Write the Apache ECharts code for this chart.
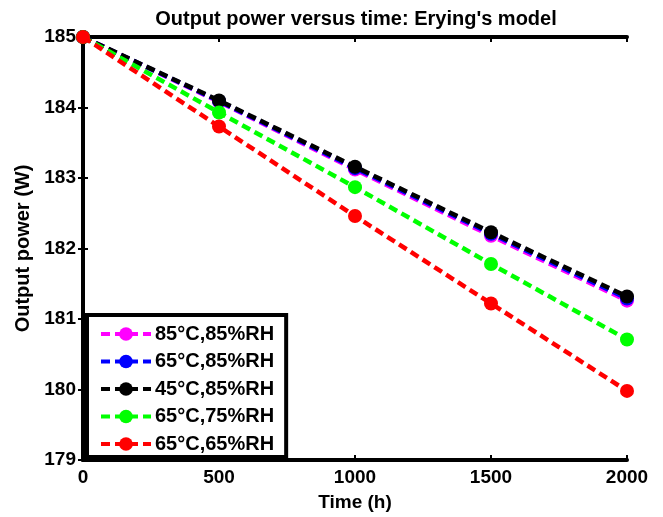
<!DOCTYPE html>
<html><head><meta charset="utf-8">
<script src="https://cdn.jsdelivr.net/npm/echarts@6/dist/echarts.min.js"></script>
<style>html,body{margin:0;padding:0;background:#fff}#c{width:663px;height:517px}</style>
</head><body><div id="c"></div>
<script>
const times = [0, 500, 1000, 1500, 2000];
const seriesNames = ['85°C,85%RH', '65°C,85%RH', '45°C,85%RH', '65°C,75%RH', '65°C,65%RH'];
const colors = ['#ff00ff', '#0000ff', '#000000', '#00ff00', '#ff0000'];
const p85_85 = [185, 184.08, 183.12, 182.18, 181.26];
const p65_85 = [185, 184.09, 183.14, 182.21, 181.29];
const p45_85 = [185, 184.10, 183.16, 182.23, 181.32];
const p65_75 = [185, 183.93, 182.87, 181.78, 180.71];
const p65_65 = [185, 183.73, 182.46, 181.22, 179.98];
const allValues = [p85_85, p65_85, p45_85, p65_75, p65_65];

const font = 'Liberation Sans, Arial, sans-serif';
const chart = echarts.init(document.getElementById('c'));
const series = allValues.map((vals, i) => ({
  name: seriesNames[i],
  type: 'line',
  data: times.map((t, j) => [t, vals[j]]),
  symbol: 'circle',
  symbolSize: 14,
  itemStyle: { color: colors[i] },
  lineStyle: { color: colors[i], width: 4.5, type: [9, 5] },
  z: 2 + i
}));
const axisLineStyle = { show: true, lineStyle: { color: '#000', width: 4 } };
const tickStyle = { show: true, inside: true, length: 5, lineStyle: { color: '#000', width: 2 } };
const labelStyle = { fontFamily: font, fontWeight: 'bold', fontSize: 19, color: '#000' };
chart.setOption({
  animation: false,
  title: {
    text: "Output power versus time: Erying's model",
    left: 351, top: 4, textAlign: 'center',
    textStyle: { fontFamily: font, fontWeight: 'bold', fontSize: 20, color: '#000' }
  },
  grid: { left: 83, top: 37, right: 36, bottom: 55 },
  legend: {
    orient: 'vertical', left: 87, top: 315,
    padding: [9, 12, 3, 12],
    borderColor: '#000', borderWidth: 4, backgroundColor: '#fff',
    itemWidth: 50, itemHeight: 17, itemGap: 7.5,
    lineStyle: { width: 4 },
    data: seriesNames,
    textStyle: { fontFamily: font, fontWeight: 'bold', fontSize: 20, color: '#000', padding: [0, 0, 0, -1] }
  },
  xAxis: [{
    type: 'value', min: 0, max: 2000, interval: 500, position: 'bottom',
    name: 'Time (h)', nameLocation: 'middle', nameGap: 33,
    nameTextStyle: labelStyle,
    axisLine: axisLineStyle,
    axisTick: tickStyle,
    axisLabel: Object.assign({ margin: 8, formatter: v => String(v) }, labelStyle),
    splitLine: { show: false }
  }, {
    type: 'value', min: 0, max: 2000, interval: 500, position: 'top',
    axisLine: axisLineStyle,
    axisTick: tickStyle,
    axisLabel: { show: false }, splitLine: { show: false }
  }],
  yAxis: [{
    type: 'value', min: 179, max: 185, interval: 1, position: 'left',
    name: 'Output power (W)', nameLocation: 'middle', nameGap: 48, nameRotate: 90,
    nameTextStyle: Object.assign({}, labelStyle, { fontSize: 20 }),
    axisLine: axisLineStyle,
    axisTick: tickStyle,
    axisLabel: Object.assign({ margin: 7 }, labelStyle),
    splitLine: { show: false }
  }, {
    type: 'value', min: 179, max: 185, interval: 1, position: 'right',
    axisLine: axisLineStyle,
    axisTick: tickStyle,
    axisLabel: { show: false }, splitLine: { show: false }
  }],
  series: series
});
</script></body></html>
